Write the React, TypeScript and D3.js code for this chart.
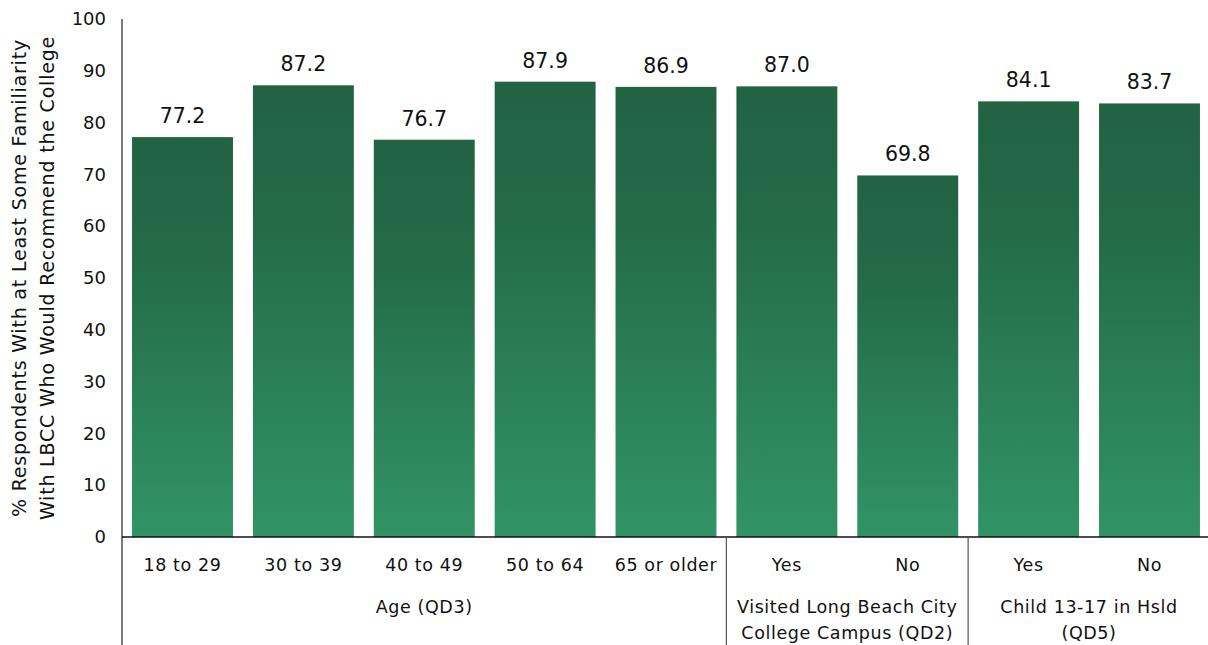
import React, { useEffect, useRef } from 'react';
import * as d3 from 'd3';

const categories = ['18 to 29', '30 to 39', '40 to 49', '50 to 64', '65 or older', 'Yes', 'No', 'Yes', 'No'];
const values = [77.2, 87.2, 76.7, 87.9, 86.9, 87.0, 69.8, 84.1, 83.7];
const groupNames = [['Age (QD3)'], ['Visited Long Beach City', 'College Campus (QD2)'], ['Child 13-17 in Hsld', '(QD5)']];
const groupSizes = [5, 2, 2];
const yTicks = [0, 10, 20, 30, 40, 50, 60, 70, 80, 90, 100];
const yTitle = ['% Respondents With at Least Some Familiarity', 'With LBCC Who Would Recommend the College'];

const W = 1208;
const H = 645;
const FONT = '"DejaVu Sans", Verdana, sans-serif';

const App: React.FC = () => {
  const svgRef = useRef<SVGSVGElement>(null);

  useEffect(() => {
    if (!svgRef.current) return;
    const svg = d3.select(svgRef.current);
    svg.selectAll('*').remove();

    const left = 122;
    const baseY = 537;
    const x = d3.scaleBand<number>()
      .domain(d3.range(categories.length))
      .range([left, 1210])
      .paddingInner(0.165)
      .paddingOuter(0.083);
    const y = d3.scaleLinear().domain([0, 100]).range([baseY, 19]);
    const step = x.step();

    const defs = svg.append('defs');
    const grad = defs.append('linearGradient')
      .attr('id', 'barGrad')
      .attr('x1', 0).attr('y1', 0).attr('x2', 0).attr('y2', 1);
    grad.append('stop').attr('offset', '0%').attr('stop-color', '#216343');
    grad.append('stop').attr('offset', '30%').attr('stop-color', '#246b48');
    grad.append('stop').attr('offset', '100%').attr('stop-color', '#319465');

    // bars
    svg.append('g')
      .selectAll('rect')
      .data(values)
      .enter()
      .append('rect')
      .attr('x', (_, i) => x(i) as number)
      .attr('y', d => y(d))
      .attr('width', x.bandwidth())
      .attr('height', d => baseY - y(d))
      .attr('fill', 'url(#barGrad)');

    // value labels
    svg.append('g')
      .selectAll('text')
      .data(values)
      .enter()
      .append('text')
      .attr('x', (_, i) => (x(i) as number) + x.bandwidth() / 2)
      .attr('y', d => y(d) - 14)
      .attr('text-anchor', 'middle')
      .style('font-family', FONT)
      .style('font-size', '20.5px')
      .style('fill', '#111')
      .text(d => d.toFixed(1));

    // y axis
    const yAxis = d3.axisLeft(y).tickValues(yTicks).tickSize(0).tickPadding(16);
    const ya = svg.append('g').attr('transform', `translate(${left},0)`).call(yAxis);
    ya.select('.domain').remove();
    ya.selectAll('text')
      .style('font-family', FONT)
      .style('font-size', '18px')
      .style('fill', '#111');

    svg.append('line')
      .attr('x1', left).attr('x2', left)
      .attr('y1', 19).attr('y2', H)
      .attr('stroke', '#222').attr('stroke-width', 1.2);
    svg.append('line')
      .attr('x1', left).attr('x2', W)
      .attr('y1', baseY).attr('y2', baseY)
      .attr('stroke', '#111').attr('stroke-width', 1.5);

    // category labels
    svg.append('g')
      .selectAll('text')
      .data(categories)
      .enter()
      .append('text')
      .attr('x', (_, i) => (x(i) as number) + x.bandwidth() / 2)
      .attr('y', 571)
      .attr('text-anchor', 'middle')
      .style('font-family', FONT)
      .style('font-size', '17.5px')
      .style('letter-spacing', '0.6px')
      .style('fill', '#111')
      .text(d => d);

    // group labels and separators
    let start = 0;
    groupSizes.forEach((n, gi) => {
      const gx0 = left + start * step;
      const gx1 = left + (start + n) * step;
      if (gi > 0) {
        svg.append('line')
          .attr('x1', gx0).attr('x2', gx0)
          .attr('y1', baseY).attr('y2', H)
          .attr('stroke', '#555').attr('stroke-width', 1.2);
      }
      groupNames[gi].forEach((line, li) => {
        svg.append('text')
          .attr('x', (gx0 + gx1) / 2)
          .attr('y', 613 + li * 26)
          .attr('text-anchor', 'middle')
          .style('font-family', FONT)
          .style('font-size', '17.5px')
          .style('letter-spacing', '0.6px')
          .style('fill', '#111')
          .text(line);
      });
      start += n;
    });

    // y title
    const cy = 278;
    yTitle.forEach((line, i) => {
      svg.append('text')
        .attr('transform', `translate(${26 + i * 28},${cy}) rotate(-90)`)
        .attr('text-anchor', 'middle')
        .style('font-family', FONT)
        .style('font-size', '19px')
        .style('letter-spacing', '0.8px')
        .style('fill', '#111')
        .text(line);
    });
  }, []);

  return (
    <svg
      ref={svgRef}
      width={W}
      height={H}
      style={{ position: 'absolute', left: 0, top: 0, display: 'block', background: '#fff' }}
    />
  );
};

export default App;
